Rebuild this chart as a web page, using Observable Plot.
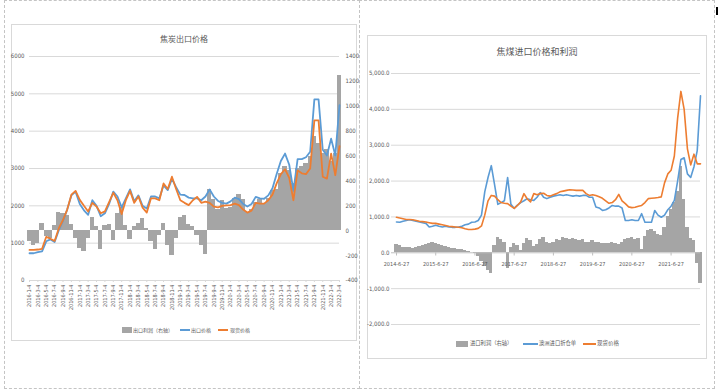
<!DOCTYPE html>
<html><head><meta charset="utf-8">
<script src="https://cdn.jsdelivr.net/npm/d3@7"></script>
<script src="https://cdn.jsdelivr.net/npm/@observablehq/plot@0.6"></script>
<style>
body{margin:0;background:#fff;}
#page{position:relative;width:718px;height:390px;overflow:hidden;background:#fff;}
.frame{position:absolute;border:1px dashed #c4c4c4;box-sizing:border-box;}
.box{position:absolute;border:1px solid #d9d9d9;box-sizing:border-box;background:#fff;}
.title{position:absolute;text-align:center;color:#595959;font-family:"Noto Sans CJK SC",sans-serif;line-height:1;}
.lg{position:absolute;color:#595959;font-family:"Noto Sans CJK SC",sans-serif;line-height:1;white-space:nowrap;}
.sw{position:absolute;}
.chart{position:absolute;}
.chart svg text{fill:#595959;}
</style></head>
<body>
<div id="page">
  <div class="frame" style="left:4px;top:0;width:356px;height:389px"></div>
  <div class="frame" style="left:359px;top:0;width:356px;height:389px"></div>
  <div style="position:absolute;left:716px;top:7px;width:2px;height:8px;background:#000"></div>
  <div class="box" style="left:11px;top:24px;width:346px;height:317px"></div>
  <div class="box" style="left:367px;top:35px;width:340px;height:324px"></div>
  <div class="title" style="left:11px;width:346px;top:35px;font-size:8px">焦炭出口价格</div>
  <div class="title" style="left:367px;width:340px;top:47px;font-size:9px">焦煤进口价格和利润</div>
  <div id="c1" class="chart" style="left:11px;top:50px"></div>
  <div id="c2" class="chart" style="left:367px;top:65px"></div>

  <div class="sw" style="left:122px;top:327px;width:10px;height:6px;background:#a5a5a5"></div>
  <div class="lg" style="left:133px;top:327px;font-size:5px">出口利润（右轴）</div>
  <div class="sw" style="left:180px;top:329px;width:10px;height:2px;background:#5b9bd5"></div>
  <div class="lg" style="left:191px;top:327px;font-size:5px">出口价格</div>
  <div class="sw" style="left:218px;top:329px;width:10px;height:2px;background:#ed7d31"></div>
  <div class="lg" style="left:230px;top:327px;font-size:5px">现货价格</div>

  <div class="sw" style="left:456px;top:341px;width:12px;height:6px;background:#a5a5a5"></div>
  <div class="lg" style="left:470px;top:341px;font-size:5.3px">进口利润（右轴）</div>
  <div class="sw" style="left:523px;top:343px;width:15px;height:2px;background:#5b9bd5"></div>
  <div class="lg" style="left:539px;top:341px;font-size:5.3px">澳洲进口折仓单</div>
  <div class="sw" style="left:583px;top:343px;width:13px;height:2px;background:#ed7d31"></div>
  <div class="lg" style="left:597px;top:341px;font-size:5.5px">现货价格</div>
</div>
<script>
// ---------- Left chart: 焦炭出口价格 (monthly, 2016-01 .. 2022-03) ----------
const leftTickLabels = [
  "2016-1-4","2016-3-4","2016-5-4","2016-7-4","2016-9-4","2016-11-4",
  "2017-1-4","2017-3-4","2017-5-4","2017-7-4","2017-9-4","2017-11-4",
  "2018-1-4","2018-3-4","2018-5-4","2018-7-4","2018-9-4","2018-11-4",
  "2019-1-4","2019-3-4","2019-5-4","2019-7-4","2019-9-4","2019-11-4",
  "2020-1-4","2020-3-4","2020-5-4","2020-7-4","2020-9-4","2020-11-4",
  "2021-1-4","2021-3-4","2021-5-4","2021-7-4","2021-9-4","2021-11-4",
  "2022-1-4","2022-3-4"
];
const leftExportPrice = [
  730,730,760,780,1050,1100,1030,1350,1600,1900,2280,2380,
  2050,1880,1760,2150,2000,1720,1800,2050,2380,2250,1960,2200,
  2440,2120,2280,2000,1930,2250,2250,2200,2550,2420,2720,2500,
  2300,2290,2220,2200,2200,2150,2250,2440,2250,2130,2080,2060,
  2120,2220,2180,2050,1980,2050,2240,2200,2190,2280,2470,2850,
  3200,3400,3100,2400,3250,3250,3300,3450,4850,4850,3500,3350,
  3800,3350,4700
];
const leftSpotPrice = [
  820,820,830,850,1170,1120,1060,1400,1620,1900,2300,2400,
  2160,2000,1850,2080,1980,1800,1850,2100,2350,2150,1780,2150,
  2400,2080,2250,1950,1820,2200,2200,2150,2600,2450,2780,2450,
  2150,2080,2020,2150,2240,2080,2110,2080,1980,1960,2000,2010,
  2020,2060,2020,1900,1820,1870,2080,2060,2060,2150,2300,2600,
  2850,2980,2750,2150,2950,2870,2850,3000,4290,4290,2780,2730,
  3400,2820,3600
];
const leftExportProfit = [ // right axis
  -90,-120,-100,60,-50,-60,40,150,140,120,50,-60,
  -140,-170,-60,110,30,-150,40,50,-80,140,190,40,
  -70,30,60,100,20,-90,-150,-40,60,-120,-200,-60,
  110,120,50,30,-40,-120,-190,330,250,170,240,180,
  190,260,290,250,150,170,230,250,220,260,320,330,
  460,520,480,380,500,520,540,600,760,700,620,650,
  560,620,1250
];
const leftAxisTicks = [0,1000,2000,3000,4000,5000,6000];
const rightAxisTicks = [-400,-200,0,200,400,600,800,1000,1200,1400];

// ---------- Right chart: 焦煤进口价格和利润 (monthly, 2014-06-27 .. 2022-03-27) ----------
const rightTickLabels = ["2014-6-27","2015-6-27","2016-6-27","2017-6-27","2018-6-27","2019-6-27","2020-6-27","2021-6-27"];
const rightAusImport = [
  860,850,880,900,920,900,880,860,840,820,720,740,
  770,740,720,740,720,710,710,720,740,780,800,850,
  860,900,1050,1700,2100,2430,1900,1350,1400,1450,2100,1350,
  1240,1330,1400,1450,1510,1480,1460,1550,1680,1550,1510,1550,
  1580,1600,1620,1600,1620,1600,1580,1600,1580,1600,1600,1550,
  1550,1280,1250,1180,1200,1250,1320,1300,1300,1250,900,900,
  920,900,900,1090,850,850,850,1180,1050,990,1050,1200,
  1300,1460,2000,2600,2650,2200,2100,2400,2850,4380
];
const rightSpotPrice = [
  990,970,950,930,930,920,900,880,870,860,840,820,
  820,800,780,760,740,730,720,710,700,670,650,650,
  660,680,750,1050,1450,1600,1580,1480,1400,1380,1370,1300,
  1240,1320,1420,1650,1500,1420,1650,1620,1650,1660,1600,1580,
  1620,1650,1700,1720,1740,1760,1750,1740,1740,1740,1650,1600,
  1620,1600,1560,1520,1450,1380,1400,1480,1630,1450,1370,1280,
  1260,1270,1300,1320,1400,1510,1520,1530,1540,1560,1950,2200,
  2300,2700,3750,4500,4000,2900,2450,2750,2480,2480
];
const rightImportProfit = [
  240,200,160,150,140,130,150,170,200,220,260,290,
  250,220,200,180,150,130,110,100,80,60,40,20,
  -30,-100,-250,-380,-500,-570,200,420,380,300,-450,150,
  260,200,60,250,400,350,180,220,380,430,300,250,
  300,380,350,420,400,380,400,380,330,380,300,280,
  350,300,280,250,250,260,280,250,220,300,380,400,
  420,380,400,100,450,620,650,600,500,480,700,1000,
  1200,1400,1700,2400,1500,700,400,350,-300,-850
];
const rightAxisTicksR = [-2000,-1000,0,1000,2000,3000,4000,5000];

const numFont = "'Liberation Sans Narrow','DejaVu Sans Condensed','Liberation Sans',sans-serif";
const GRAY = "#a5a5a5", BLUE = "#5b9bd5", ORANGE = "#ed7d31", TXT = "#595959", GRID = "#d9d9d9";

// right-axis (profit) -> left-axis units for the dual axis chart
const toLeft = r => (r + 400) / 0.3;

const L = leftExportPrice.map((v, i) => ({i, exp: v, spot: leftSpotPrice[i], profit: leftExportProfit[i]}));

const chart1 = Plot.plot({
  width: 346, height: 270,
  marginLeft: 18, marginRight: 18, marginTop: 6, marginBottom: 40,
  x: {domain: [0, 74], axis: null},
  y: {domain: [0, 6000], axis: null},
  style: {fontFamily: numFont, fontSize: "6px", color: TXT, background: "transparent", overflow: "visible"},
  marks: [
    Plot.ruleY(leftAxisTicks.filter(d => d > 0), {stroke: GRID, strokeWidth: 1}),
    Plot.rect(L, {x1: d => d.i - 0.5, x2: d => d.i + 0.5, y1: toLeft(0), y2: d => toLeft(d.profit), fill: GRAY, shapeRendering: "crispEdges"}),
    Plot.ruleY([0], {stroke: GRID}),
    Plot.line(L, {x: "i", y: "exp", stroke: BLUE, strokeWidth: 1.8}),
    Plot.line(L, {x: "i", y: "spot", stroke: ORANGE, strokeWidth: 1.8}),
    Plot.axisY({anchor: "left", ticks: leftAxisTicks, tickSize: 0, tickPadding: 5, tickFormat: d => String(d), label: null, color: TXT, fill: TXT}),
    Plot.axisY({anchor: "right", ticks: rightAxisTicks.map(toLeft), tickSize: 0, tickPadding: 6,
      tickFormat: d => String(Math.round(d * 0.3 - 400)), label: null, color: TXT, fill: TXT}),
    Plot.axisX({anchor: "bottom", ticks: leftTickLabels.map((_, k) => k * 2), tickFormat: d => leftTickLabels[Math.round(d / 2)],
      tickRotate: -90, tickSize: 2, tickPadding: 2, label: null, stroke: GRID, fill: TXT, fontSize: 5.5})
  ]
});
document.getElementById("c1").appendChild(chart1);

const R = rightAusImport.map((v, i) => ({i, aus: v, spot: rightSpotPrice[i], profit: rightImportProfit[i]}));
const rTickIdx = rightTickLabels.map((_, k) => k * 12);

const chart2 = Plot.plot({
  width: 339, height: 267,
  marginLeft: 24, marginRight: 6, marginTop: 8, marginBottom: 8,
  x: {domain: [-1.53, 93], axis: null},
  y: {domain: [-2000, 5000], axis: null},
  style: {fontFamily: numFont, fontSize: "6px", color: TXT, background: "transparent", overflow: "visible"},
  marks: [
    Plot.ruleY(rightAxisTicksR.filter(d => d !== 0), {stroke: GRID}),
    Plot.rect(R, {x1: d => d.i - 0.5, x2: d => d.i + 0.5, y1: 0, y2: "profit", fill: GRAY, shapeRendering: "crispEdges"}),
    Plot.ruleY([0], {stroke: "#bfbfbf"}),
    Plot.ruleX(rTickIdx, {x: d => d, y1: 0, y2: -90, stroke: "#bfbfbf"}),
    Plot.line(R, {x: "i", y: "aus", stroke: BLUE, strokeWidth: 1.6}),
    Plot.line(R, {x: "i", y: "spot", stroke: ORANGE, strokeWidth: 1.6}),
    Plot.text(rTickIdx, {x: d => d, y: 0, text: (d, k) => rightTickLabels[k], dy: 11, fill: TXT, fontSize: 5.5}),
    Plot.axisY({anchor: "left", ticks: rightAxisTicksR, tickSize: 0, tickPadding: 2,
      tickFormat: d => d3.format(",.1f")(d).replace("\u2212", "-"), label: null, color: TXT, fill: TXT})
  ]
});
document.getElementById("c2").appendChild(chart2);
</script>
</body></html>
